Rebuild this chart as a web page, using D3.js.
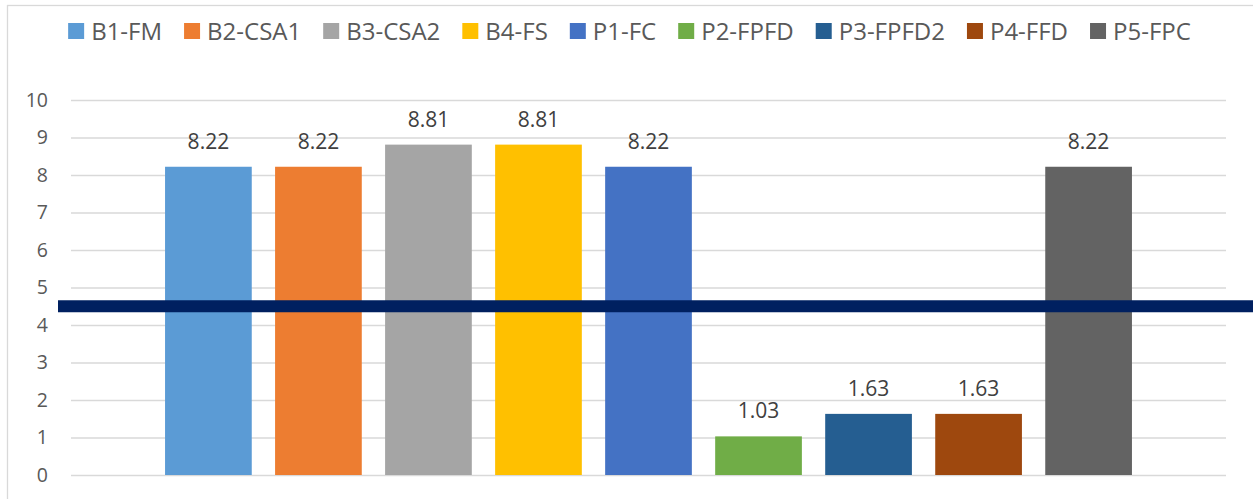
<!DOCTYPE html>
<html>
<head>
<meta charset="utf-8">
<script src="https://cdn.jsdelivr.net/npm/d3@7"></script>
<style>
  body { margin: 0; background: #fff; }
  svg { display: block; font-family: "Open Sans", sans-serif; }
</style>
</head>
<body>
<script>
var width = 1253;
var height = 499;

// series (one category, nine series)
var series = ["B1-FM", "B2-CSA1", "B3-CSA2", "B4-FS", "P1-FC", "P2-FPFD", "P3-FPFD2", "P4-FFD", "P5-FPC"];
var values = [8.22, 8.22, 8.81, 8.81, 8.22, 1.03, 1.63, 1.63, 8.22];
var colors = ["#5B9BD5", "#ED7D31", "#A5A5A5", "#FFC000", "#4472C4", "#70AD47", "#255E91", "#9E480E", "#636363"];
var yTicks = [0, 1, 2, 3, 4, 5, 6, 7, 8, 9, 10];
var threshold = 4.5;

var plot = { left: 71, right: 1226, top: 100, bottom: 475 };

var svg = d3.select("body").append("svg")
    .attr("width", width)
    .attr("height", height);

// chart frame (cut off at right / bottom in the picture)
svg.append("rect")
    .attr("x", 7.5).attr("y", 5.5)
    .attr("width", width + 20).attr("height", height + 20)
    .attr("fill", "none")
    .attr("stroke", "#D9D9D9")
    .attr("stroke-width", 1.3);

var y = d3.scaleLinear().domain([0, 10]).range([plot.bottom, plot.top]);

var x0 = d3.scaleBand().domain(["cat"]).range([plot.left, plot.right]).paddingOuter(0.0832);
var x1 = d3.scaleBand().domain(series).range([0, x0.bandwidth()]).paddingInner(0.212).paddingOuter(0.106);

// gridlines
svg.append("g")
  .attr("class", "grid")
  .attr("transform", `translate(${plot.left},0)`)
  .call(d3.axisLeft(y).tickValues(yTicks).tickSize(-(plot.right - plot.left)).tickFormat(""))
  .call(g => g.select(".domain").remove())
  .call(g => g.selectAll("line").attr("stroke", "#D9D9D9").attr("stroke-width", 1.3));

// y tick labels
svg.append("g")
  .attr("transform", "translate(48,0)")
  .call(d3.axisLeft(y).tickValues(yTicks).tickSize(0).tickPadding(0))
  .call(g => g.select(".domain").remove())
  .call(g => g.selectAll("text")
      .attr("fill", "#595959")
      .style("font-size", "19.5px")
      .style("font-family", "'Open Sans', sans-serif"));

// bars
var grp = svg.append("g").attr("transform", `translate(${x0("cat")},0)`);

grp.selectAll("rect")
  .data(series)
  .enter().append("rect")
    .attr("x", d => x1(d))
    .attr("y", (d, i) => y(values[i]))
    .attr("width", x1.bandwidth())
    .attr("height", (d, i) => y(0) - y(values[i]))
    .attr("fill", (d, i) => colors[i]);

grp.selectAll("text.lbl")
  .data(series)
  .enter().append("text")
    .attr("class", "lbl")
    .attr("x", d => x1(d) + x1.bandwidth() / 2)
    .attr("y", (d, i) => y(values[i]) - 18)
    .attr("text-anchor", "middle")
    .attr("fill", "#404040")
    .style("font-size", "21px")
    .text((d, i) => values[i].toFixed(2));

// threshold line
svg.append("line")
    .attr("x1", 58).attr("x2", width + 10)
    .attr("y1", y(threshold)).attr("y2", y(threshold))
    .attr("stroke", "#002060")
    .attr("stroke-width", 12);

// legend
var legend = svg.append("g").attr("class", "legend");
var items = legend.selectAll("g")
  .data(series)
  .enter().append("g");

items.append("rect")
    .attr("width", 16).attr("height", 16)
    .attr("y", 23)
    .attr("fill", (d, i) => colors[i]);

items.append("text")
    .attr("x", 23)
    .attr("y", 39.5)
    .attr("fill", "#595959")
    .style("font-size", "24px")
    .text(d => d);

var pos = 0;
var offsets = [];
items.each(function() {
  offsets.push(pos);
  pos += this.getBBox().width + 22;
});
var total = pos - 22;
var start = 629.5 - total / 2;
items.attr("transform", (d, i) => `translate(${start + offsets[i]},0)`);
</script>
</body>
</html>
